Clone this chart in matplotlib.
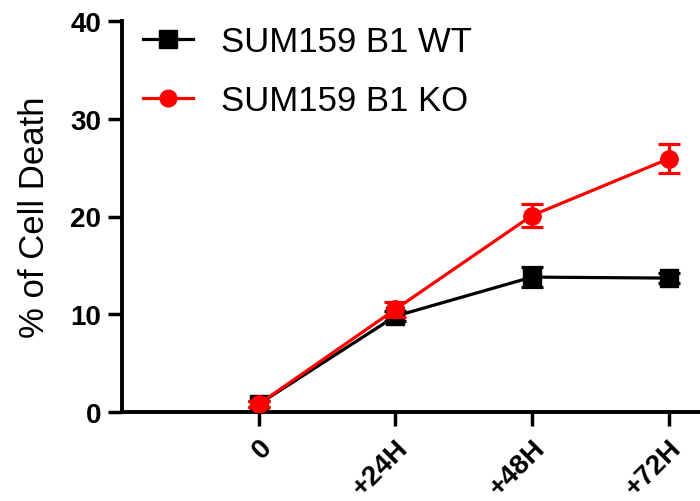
import matplotlib
matplotlib.use("Agg")
import matplotlib.pyplot as plt
from matplotlib.lines import Line2D
import numpy as np

categories = ["0", "+24H", "+48H", "+72H"]
wt_values = [0.8, 9.8, 13.8, 13.7]
wt_err = [0.3, 0.5, 1.0, 0.5]
ko_values = [0.8, 10.5, 20.1, 25.9]
ko_err = [0.3, 0.8, 1.2, 1.5]
labels = ["SUM159 B1 WT", "SUM159 B1 KO"]

plt.rcParams['font.family'] = ['Liberation Sans', 'DejaVu Sans']

fig = plt.figure(figsize=(7.0, 5.02), dpi=100)
ax = fig.add_axes([122/700, 89/502, 1 - 122/700, (413-22)/502])

x = np.arange(len(categories))
ax.errorbar(x, wt_values, yerr=wt_err, color='black', marker='s', markersize=13.5,
            linewidth=2.3, elinewidth=2.3, capsize=8, capthick=2.3, zorder=3)
ax.errorbar(x, ko_values, yerr=ko_err, color='#ff0000', marker='o', markersize=12.5,
            linewidth=2.3, elinewidth=2.3, capsize=8, capthick=2.3, zorder=4)

ax.set_xlim(-1.0, 3.23)
ax.set_ylim(0, 40)
ax.set_yticks([0, 10, 20, 30, 40])
ax.set_xticks(x)
ax.set_xticklabels(categories, rotation=45, ha='right', rotation_mode='anchor',
                   fontsize=20, fontweight='bold')
for t in ax.get_yticklabels():
    t.set_fontsize(20)
    t.set_fontweight('bold')
ax.tick_params(axis='both', width=2.5, length=10, direction='out', pad=5)
ax.tick_params(axis='x', pad=6)
for s in ['top', 'right']:
    ax.spines[s].set_visible(False)
for s in ['left', 'bottom']:
    ax.spines[s].set_linewidth(2.8)
ax.set_ylabel("% of Cell Death", fontsize=25, labelpad=14)

handles = [Line2D([], [], color='black', marker='s', markersize=13, linewidth=2.3),
           Line2D([], [], color='#ff0000', marker='o', markersize=12, linewidth=2.3)]
fig.legend(handles, labels, loc='upper left', bbox_to_anchor=(143/700, 1 - 26/502),
           frameon=False, fontsize=25, handlelength=1.45, handletextpad=0.8,
           labelspacing=0.75, borderaxespad=0, borderpad=0)

fig.savefig("out.png", dpi=100)
